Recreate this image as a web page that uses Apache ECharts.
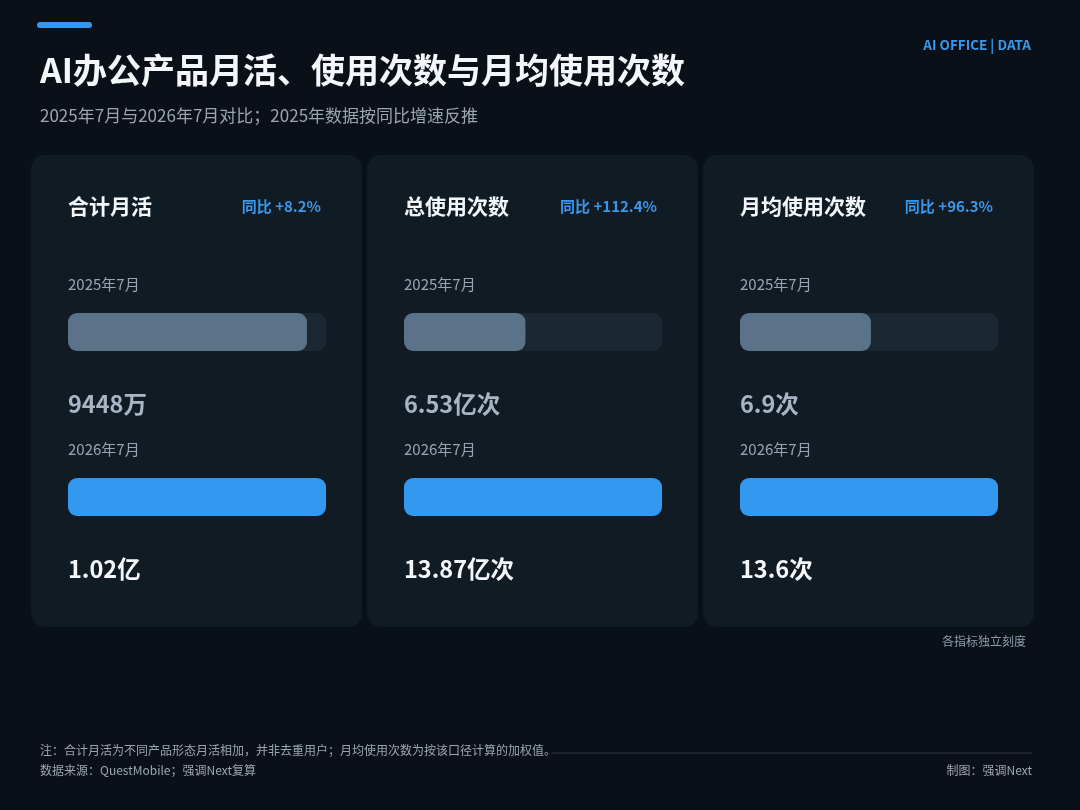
<!DOCTYPE html>
<html>
<head>
<meta charset="utf-8">
<script src="https://cdn.jsdelivr.net/npm/echarts@6/dist/echarts.min.js"></script>
<style>
html,body{margin:0;padding:0;background:#0a1018;}
#c{width:1080px;height:810px;}
</style>
</head>
<body>
<div id="c"></div>
<script>
var metrics = ['合计月活', '总使用次数', '月均使用次数'];
var periods = ['2025年7月', '2026年7月'];
var values2025 = [0.9448, 6.53, 6.9];
var values2026 = [1.02, 13.87, 13.6];
var labels2025 = ['9448万', '6.53亿次', '6.9次'];
var labels2026 = ['1.02亿', '13.87亿次', '13.6次'];
var yoy = ['同比 +8.2%', '同比 +112.4%', '同比 +96.3%'];

var FONT = '"Noto Sans CJK SC","Noto Sans",sans-serif';
var chart = echarts.init(document.getElementById('c'));

var cardX = [31, 367, 703];
var cardY = 155, cardW = 331, cardH = 472;

var grids = [], xAxes = [], yAxes = [], series = [], graphics = [];

graphics.push({type:'rect', shape:{x:37,y:22,width:55,height:6,r:3}, style:{fill:'#3399f0'}});
graphics.push({type:'text', x:40, y:70, style:{text:'AI办公产品月活、使用次数与月均使用次数', fill:'#f4f7fa', font:'bold 34px '+FONT, verticalAlign:'middle'}});
graphics.push({type:'text', x:40, y:116, style:{text:'2025年7月与2026年7月对比；2025年数据按同比增速反推', fill:'#9aa5b1', font:'17px '+FONT, verticalAlign:'middle'}});
graphics.push({type:'text', x:1031, y:45, style:{text:'AI OFFICE | DATA', fill:'#3a97ea', font:'bold 13.5px '+FONT, align:'right', verticalAlign:'middle'}});

metrics.forEach(function(m, i){
  var x0 = cardX[i];
  graphics.push({type:'rect', z:-10, shape:{x:x0,y:cardY,width:cardW,height:cardH,r:14}, style:{fill:'#111b24'}});
  graphics.push({type:'text', x:x0+37, y:206, style:{text:m, fill:'#f4f7fa', font:'bold 21px '+FONT, verticalAlign:'middle'}});
  graphics.push({type:'text', x:x0+290, y:206, style:{text:yoy[i], fill:'#3a97ea', font:'bold 15px '+FONT, align:'right', verticalAlign:'middle'}});
  graphics.push({type:'text', x:x0+37, y:284, style:{text:periods[0], fill:'#97a5b2', font:'15px '+FONT, verticalAlign:'middle'}});
  graphics.push({type:'text', x:x0+37, y:404, style:{text:labels2025[i], fill:'#a7b6c4', font:'bold 23.5px '+FONT, verticalAlign:'middle'}});
  graphics.push({type:'text', x:x0+37, y:449, style:{text:periods[1], fill:'#97a5b2', font:'15px '+FONT, verticalAlign:'middle'}});
  graphics.push({type:'text', x:x0+37, y:569, style:{text:labels2026[i], fill:'#f4f7fa', font:'bold 23.5px '+FONT, verticalAlign:'middle'}});

  grids.push({left:x0+37, width:258, top:249.5, height:330});
  xAxes.push({type:'value', gridIndex:i, min:0, max:values2026[i], show:false});
  yAxes.push({type:'category', gridIndex:i, data:periods, inverse:true, show:false});
  series.push({
    type:'bar', xAxisIndex:i, yAxisIndex:i, barWidth:38,
    showBackground:true,
    backgroundStyle:{color:'#1b2833', borderRadius:9},
    itemStyle:{borderRadius:9},
    data:[
      {value:values2025[i], itemStyle:{color:'#5b7388'}},
      {value:values2026[i], itemStyle:{color:'#3399f0'}}
    ],
    silent:true
  });
});

graphics.push({type:'text', x:1026, y:641, style:{text:'各指标独立刻度', fill:'#8f9baa', font:'12px '+FONT, align:'right', verticalAlign:'middle'}});
graphics.push({type:'line', shape:{x1:552,y1:753,x2:1032,y2:753}, style:{stroke:'#1f2b36', lineWidth:1.5}});
graphics.push({type:'text', x:40, y:750, style:{text:'注：合计月活为不同产品形态月活相加，并非去重用户；月均使用次数为按该口径计算的加权值。', fill:'#9aa5b1', font:'12px '+FONT, verticalAlign:'middle'}});
graphics.push({type:'text', x:40, y:770, style:{text:'数据来源：QuestMobile；强调Next复算', fill:'#9aa5b1', font:'12px '+FONT, verticalAlign:'middle'}});
graphics.push({type:'text', x:1032, y:770, style:{text:'制图：强调Next', fill:'#9aa5b1', font:'12px '+FONT, align:'right', verticalAlign:'middle'}});

chart.setOption({
  backgroundColor:'#0a1018',
  animation:false,
  grid:grids, xAxis:xAxes, yAxis:yAxes, series:series,
  graphic:graphics
});
</script>
</body>
</html>
